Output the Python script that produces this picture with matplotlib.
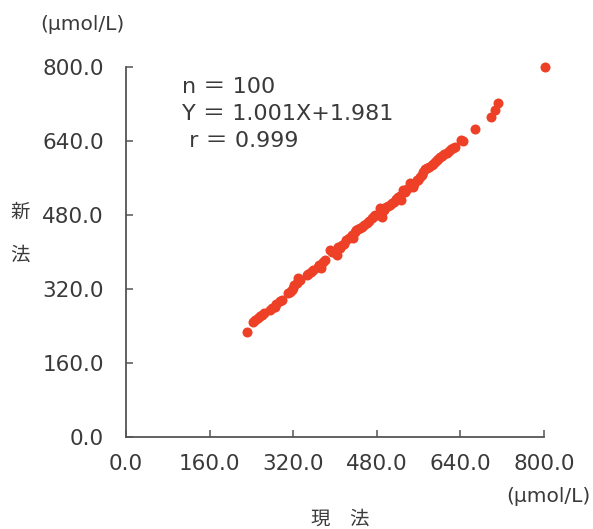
import matplotlib
matplotlib.use("Agg")
import matplotlib.pyplot as plt

# Data
x_current = [231, 244, 246, 253, 256, 260, 264, 276, 279, 285, 288, 295, 298,
             311, 314, 317, 320, 322, 327, 329, 333, 346, 349, 355, 358, 367,
             370, 374, 377, 381, 390, 395, 403, 406, 410, 413, 417, 422, 426,
             432, 435, 438, 441, 444, 448, 452, 456, 461, 465, 470, 474, 476,
             481, 486, 489, 493, 497, 502, 505, 509, 512, 516, 520, 524, 527,
             530, 534, 538, 543, 546, 549, 552, 556, 559, 562, 566, 569, 572,
             576, 580, 585, 588, 591, 595, 598, 601, 605, 609, 614, 618, 622,
             626, 630, 642, 645, 668, 698, 706, 712, 801]
y_new = [228, 249, 252, 257, 261, 264, 268, 275, 278, 282, 287, 293, 297,
         311, 313, 318, 322, 329, 333, 344, 340, 350, 353, 357, 361, 368,
         372, 365, 379, 382, 404, 401, 393, 411, 408, 415, 418, 426, 430,
         437, 430, 444, 447, 450, 452, 455, 458, 463, 468, 473, 477, 480,
         479, 495, 476, 490, 497, 500, 502, 505, 509, 514, 518, 521, 512,
         534, 530, 537, 549, 545, 541, 548, 556, 556, 562, 566, 572, 579,
         581, 584, 588, 591, 595, 599, 602, 606, 608, 611, 615, 618, 622,
         625, 628, 642, 639, 666, 692, 707, 722, 799]

x_ticks = [0, 160, 320, 480, 640, 800]
y_ticks = [0, 160, 320, 480, 640, 800]
stats_lines = ["n ＝ 100", "Y ＝ 1.001X+1.981", " r ＝ 0.999"]
unit_label = "(\u03bcmol/L)"
x_label = "現　法"
y_label_chars = ["新", "法"]

fam = ["DejaVu Sans", "Noto Sans CJK JP"]
txt_color = "#3a3a3a"
pt_color = "#ee4027"

W, H = 593, 529
fig = plt.figure(figsize=(W / 100, H / 100), dpi=100)
ax = fig.add_axes([126 / W, 1 - 437 / H, (544 - 126) / W, (437 - 67) / H])

ax.scatter(x_current, y_new, s=52, color=pt_color, marker="o", linewidths=0,
           zorder=3, clip_on=False)

ax.set_xlim(0, 800)
ax.set_ylim(0, 800)
ax.set_xticks(x_ticks)
ax.set_yticks(y_ticks)
ax.set_xticklabels([f"{v:.1f}" for v in x_ticks])
ax.set_yticklabels([f"{v:.1f}" for v in y_ticks])

for s in ["top", "right"]:
    ax.spines[s].set_visible(False)
for s in ["left", "bottom"]:
    ax.spines[s].set_color("#555555")
    ax.spines[s].set_linewidth(1.3)

ax.tick_params(axis="both", direction="in", length=5, width=1.1,
               color="#555555", labelcolor=txt_color, labelsize=15.5)
ax.tick_params(axis="y", pad=16)
ax.tick_params(axis="x", pad=12)
for lab in ax.get_xticklabels() + ax.get_yticklabels():
    lab.set_family(fam)

# Stats text
for i, line in enumerate(stats_lines):
    fig.text(182 / W, 1 - (87 + i * 27) / H, line, fontsize=16,
             color=txt_color, family=fam, ha="left", va="center")

# Unit labels
fig.text(40 / W, 1 - 25 / H, unit_label, fontsize=14.5, color=txt_color,
         family=fam, ha="left", va="center")
fig.text(590 / W, 1 - 497 / H, unit_label, fontsize=14.5, color=txt_color,
         family=fam, ha="right", va="center")

# Axis labels
fig.text(20 / W, 1 - 212 / H, y_label_chars[0], fontsize=14, color=txt_color,
         family=["Noto Sans CJK JP"], ha="center", va="center")
fig.text(20 / W, 1 - 255 / H, y_label_chars[1], fontsize=14, color=txt_color,
         family=["Noto Sans CJK JP"], ha="center", va="center")
fig.text(340 / W, 1 - 519 / H, x_label, fontsize=14, color=txt_color,
         family=["Noto Sans CJK JP"], ha="center", va="center")

fig.savefig("out.png", dpi=100)
